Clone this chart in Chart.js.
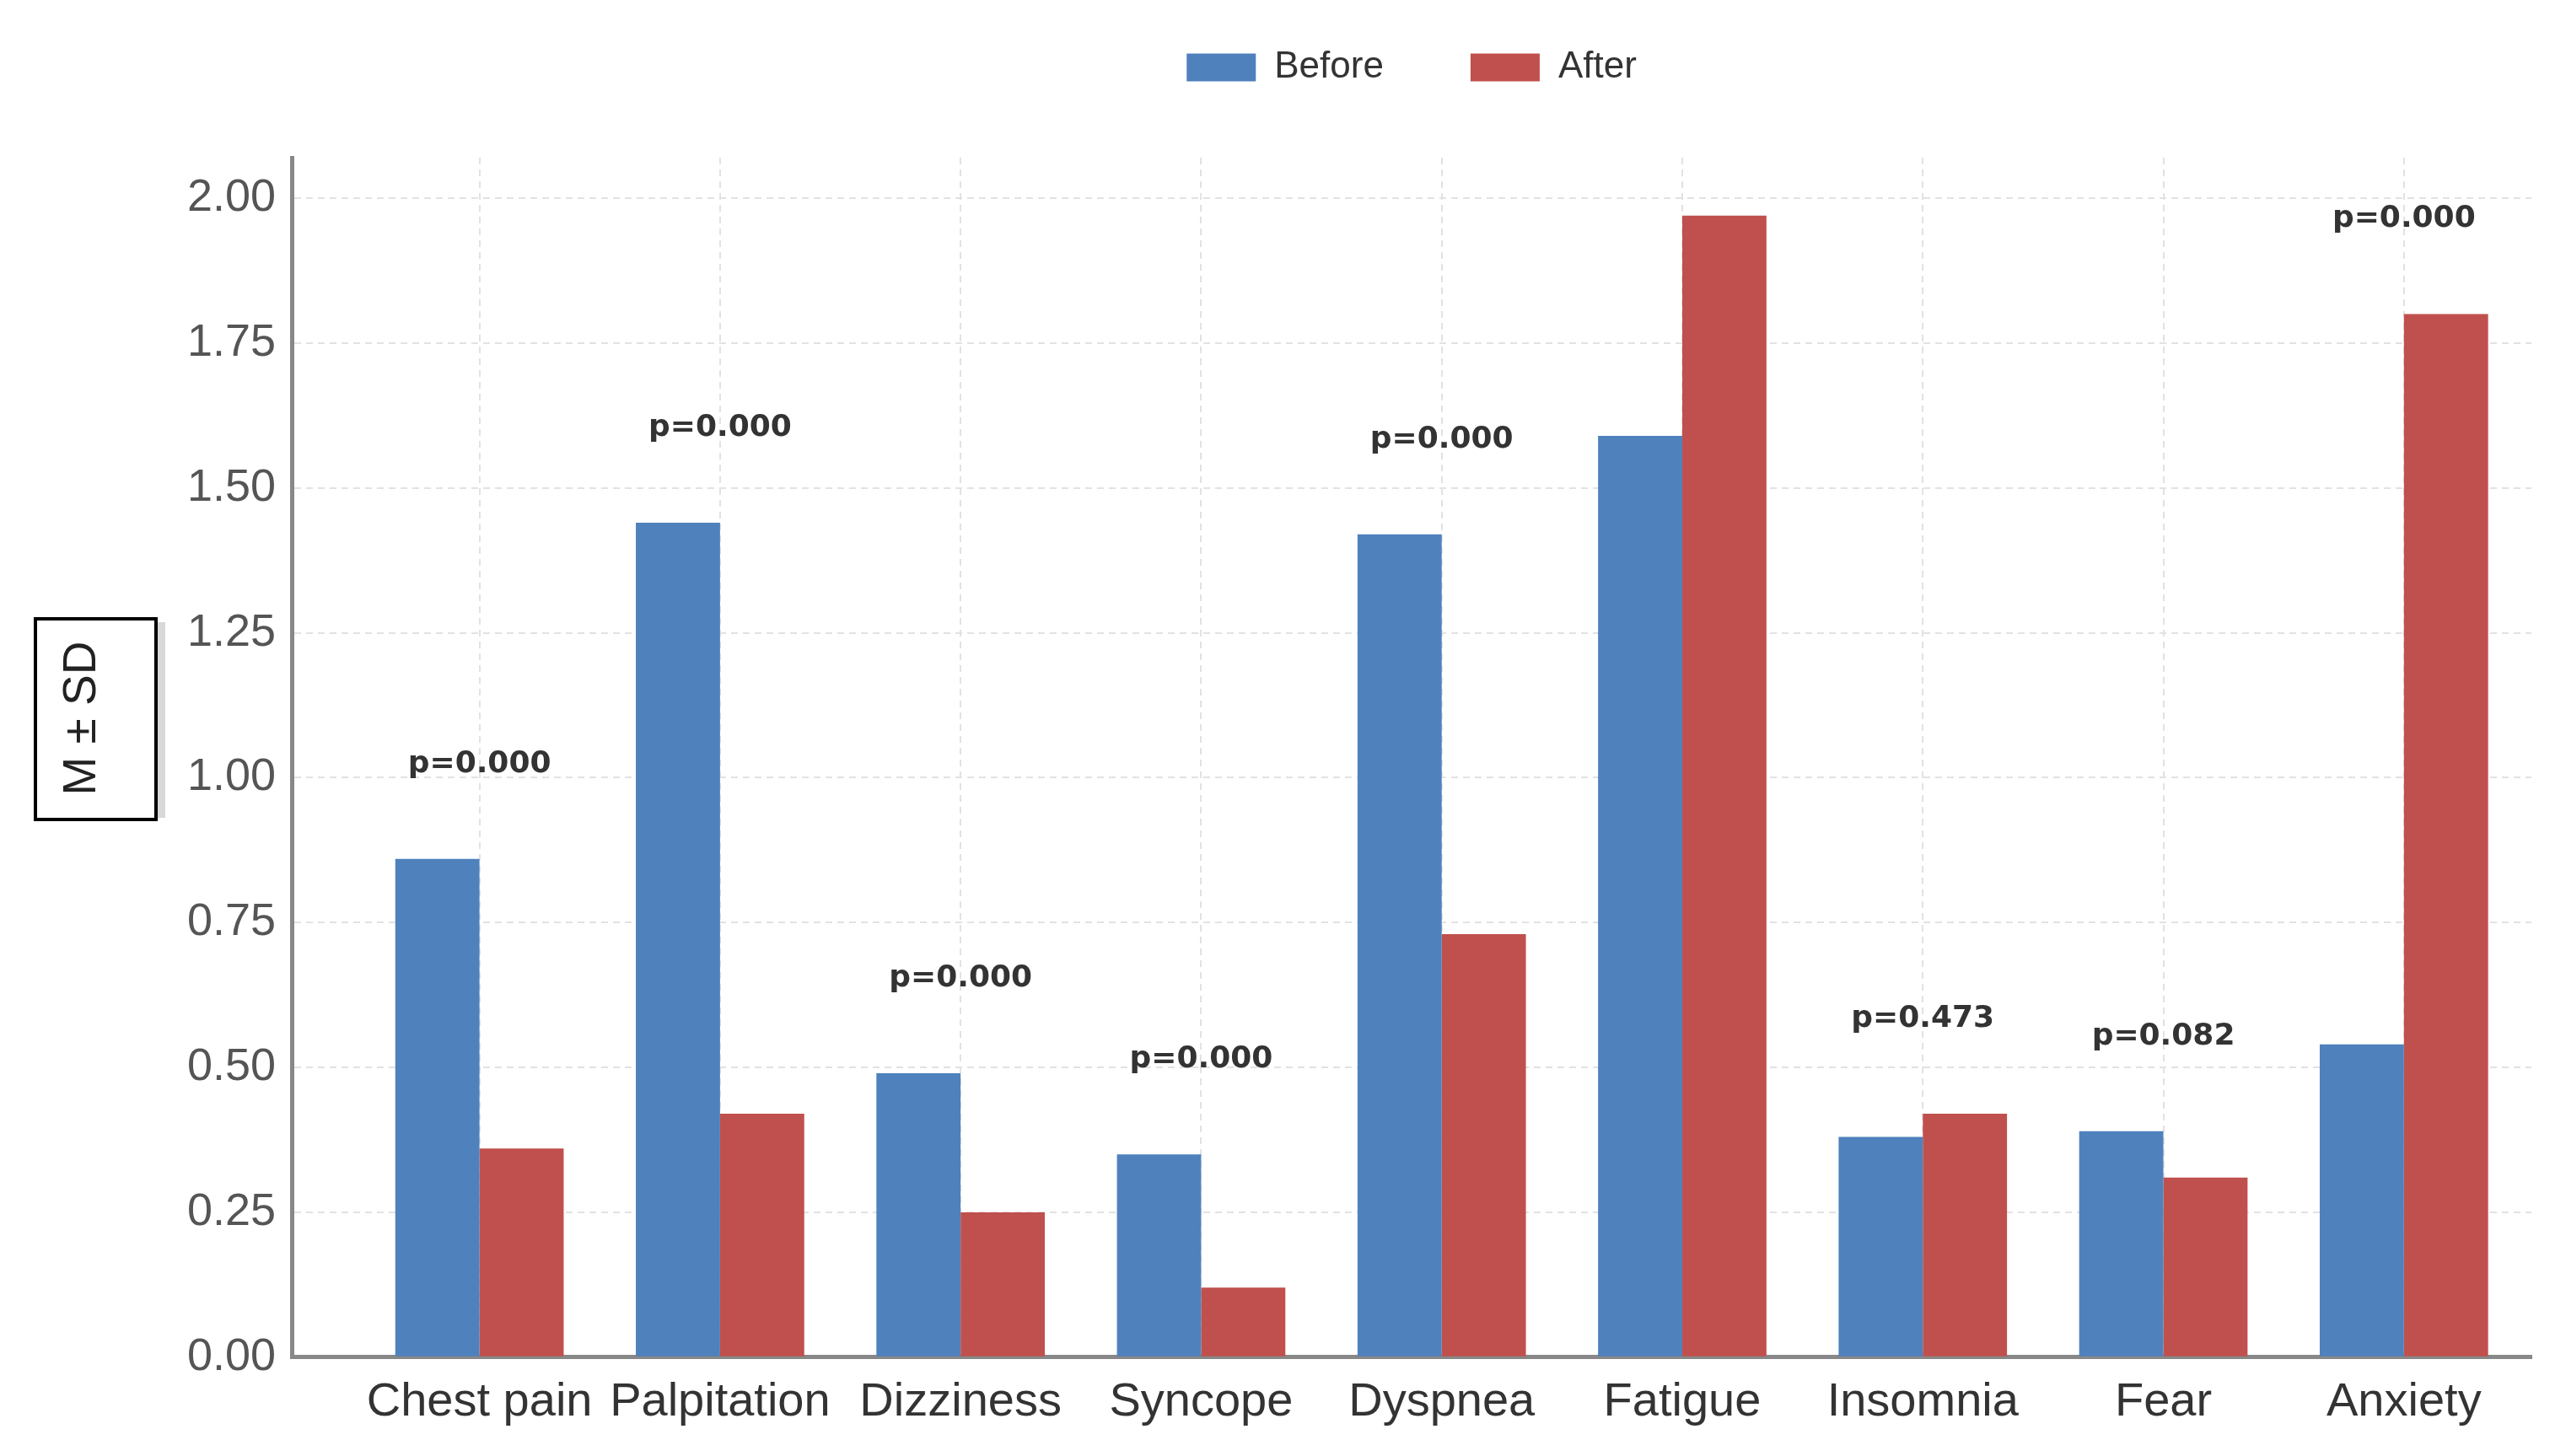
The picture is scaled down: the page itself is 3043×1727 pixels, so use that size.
<!DOCTYPE html>
<html>
<head>
<meta charset="utf-8">
<title>Symptoms before and after</title>
<script src="https://cdn.jsdelivr.net/npm/chart.js@4.4.1/dist/chart.umd.min.js"></script>
<style>
  html, body { margin: 0; padding: 0; background: #fff; }
  #wrap { width: 3043px; height: 1727px; position: relative; }
</style>
</head>
<body>
<div id="wrap"><canvas id="chart"></canvas></div>
<script>
// Data
const categories = ['Chest pain', 'Palpitation', 'Dizziness', 'Syncope', 'Dyspnea', 'Fatigue', 'Insomnia', 'Fear', 'Anxiety'];
const beforeValues = [0.86, 1.44, 0.49, 0.35, 1.42, 1.59, 0.38, 0.39, 0.54];
const afterValues = [0.36, 0.42, 0.25, 0.12, 0.73, 1.97, 0.42, 0.31, 1.80];
const pLabels = ['p=0.000', 'p=0.000', 'p=0.000', 'p=0.000', 'p=0.000', null, 'p=0.473', 'p=0.082', 'p=0.000'];
const yTicks = [0, 0.25, 0.5, 0.75, 1, 1.25, 1.5, 1.75, 2];

Chart.defaults.font.family = '"Liberation Sans", Arial, sans-serif';

// p-value text above each pair of bars
const pLabelPlugin = {
    id: 'pLabels',
    afterDatasetsDraw(chart) {
        const { ctx, scales: { x, y } } = chart;
        ctx.save();
        ctx.font = 'bold 36px "DejaVu Sans"';
        ctx.fillStyle = '#333';
        ctx.textAlign = 'center';
        ctx.textBaseline = 'alphabetic';
        pLabels.forEach((p, i) => {
            if (!p) return;
            const v = Math.max(beforeValues[i], afterValues[i]) + 0.15;
            if (v > y.max) return;
            ctx.fillText(p, x.getPixelForValue(i), y.getPixelForValue(v));
        });
        ctx.restore();
    }
};

// boxed y axis label
const yTitleBox = {
    id: 'yTitleBox',
    afterDraw(chart) {
        const ctx = chart.ctx;
        ctx.save();
        ctx.fillStyle = '#d8d8d8';
        ctx.fillRect(186, 738, 10, 232);
        ctx.strokeStyle = '#000';
        ctx.lineWidth = 4;
        ctx.strokeRect(42, 734, 143, 238);
        ctx.translate(98, 852);
        ctx.rotate(-Math.PI / 2);
        ctx.font = '55px "Liberation Sans"';
        ctx.fillStyle = '#222';
        ctx.textAlign = 'center';
        ctx.textBaseline = 'middle';
        ctx.fillText('M ± SD', 0, 0);
        ctx.restore();
    }
};

// legend sits high, plot starts lower
const legendSpacer = {
    id: 'legendSpacer',
    beforeLayout(chart) {
        const legend = chart.legend;
        if (legend && !legend._spaced) {
            const fit = legend.fit;
            legend.fit = function () {
                fit.call(this);
                this.height = 187;
            };
            legend._spaced = true;
        }
    },
    afterLayout(chart) {
        if (chart.legend) {
            chart.legend.top -= 45;
        }
    }
};

const chart = new Chart(document.getElementById('chart'), {
    type: 'bar',
    data: {
        datasets: [{
            label: 'Before',
            data: categories.map((c, i) => ({ x: i, y: beforeValues[i] })),
            backgroundColor: '#4F81BD',
            borderWidth: 0
        }, {
            label: 'After',
            data: categories.map((c, i) => ({ x: i, y: afterValues[i] })),
            backgroundColor: '#C0504D',
            borderWidth: 0
        }]
    },
    options: {
        responsive: true,
        maintainAspectRatio: false,
        animation: false,
        devicePixelRatio: 1,
        categoryPercentage: 0.7,
        barPercentage: 1.0,
        layout: { padding: { left: 203, right: 41, top: 0, bottom: 10 } },
        plugins: {
            tooltip: { enabled: false },
            legend: {
                position: 'top',
                fullSize: false,
                labels: {
                    boxWidth: 82,
                    boxHeight: 33,
                    padding: 103,
                    color: '#333',
                    font: { size: 44 }
                }
            }
        },
        scales: {
            x: {
                type: 'linear',
                min: -0.78,
                max: 8.53,
                offset: false,
                afterBuildTicks: (scale) => {
                    scale.ticks = categories.map((c, i) => ({ value: i }));
                },
                ticks: {
                    callback: (v) => categories[v],
                    autoSkip: false,
                    maxRotation: 0,
                    minRotation: 0,
                    padding: 20,
                    color: '#333',
                    font: { size: 56 }
                },
                grid: { offset: false, color: '#e2e2e2', lineWidth: 2, drawTicks: false },
                border: { color: '#888', width: 5, dash: [8, 6] }
            },
            y: {
                min: 0,
                max: 2.07,
                afterBuildTicks: (scale) => {
                    scale.ticks = yTicks.map(v => ({ value: v }));
                },
                ticks: {
                    callback: (v) => v.toFixed(2),
                    padding: 19,
                    color: '#555',
                    font: { size: 54 }
                },
                grid: { color: '#e2e2e2', lineWidth: 2, drawTicks: false },
                border: { color: '#888', width: 5, dash: [8, 6] }
            }
        }
    },
    plugins: [pLabelPlugin, yTitleBox, legendSpacer]
});
</script>
</body>
</html>
